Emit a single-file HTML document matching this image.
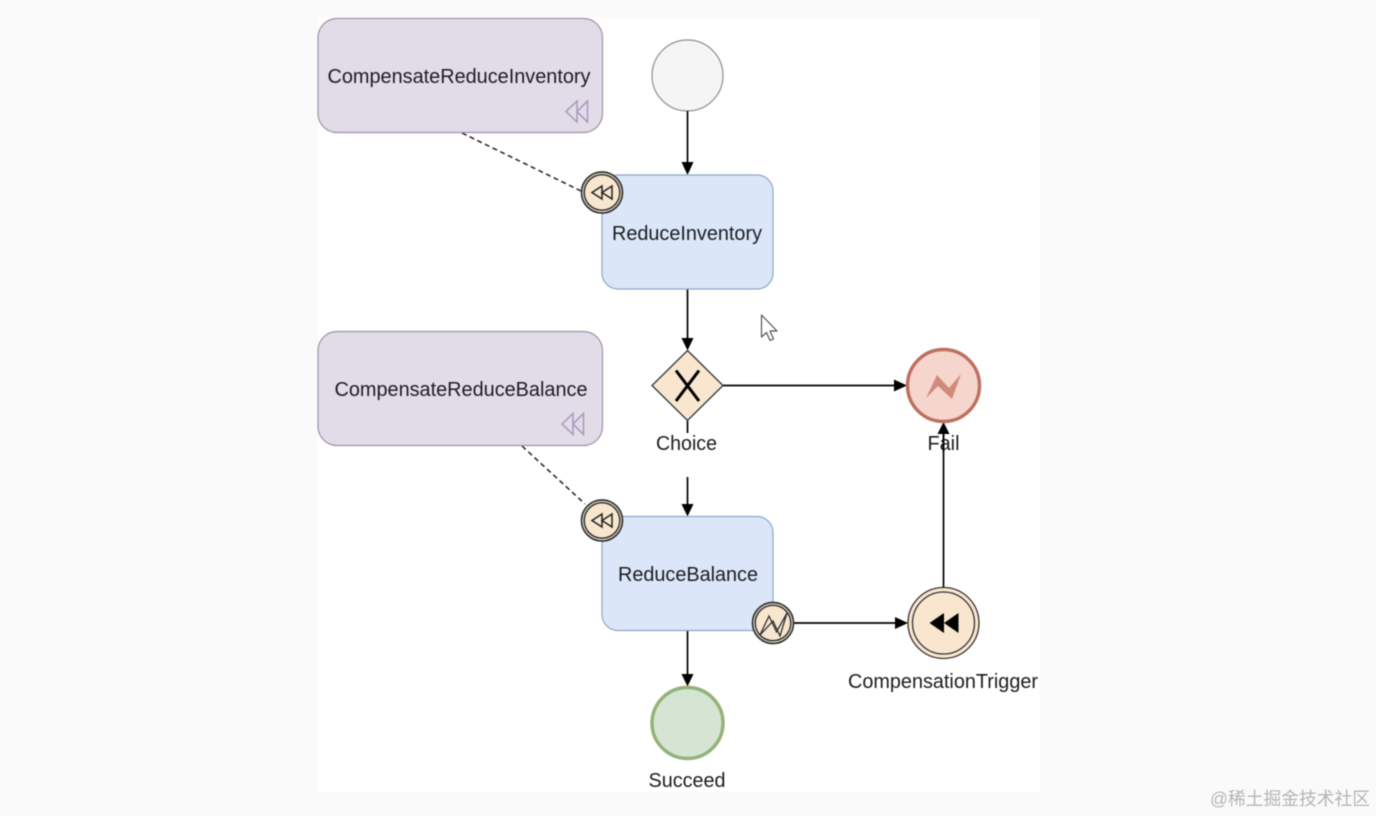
<!DOCTYPE html>
<html>
<head>
<meta charset="utf-8">
<style>
html,body{margin:0;padding:0;width:1376px;height:816px;overflow:hidden;background:#fafafa}
svg{display:block;filter:blur(0.45px)}
text{font-family:"Liberation Sans",Arial,sans-serif;font-size:20px;fill:#1c1c22;text-anchor:middle}
</style>
</head>
<body>
<svg width="1376" height="816" viewBox="0 0 1376 816" xmlns="http://www.w3.org/2000/svg">
<defs>
<g id="b" stroke-linejoin="miter"><path d="M-11 0 L-1 -6.500 L-1 6.500 Z M-1 0 L9 -6.500 L9 6.500 Z" fill="none" stroke="#222" stroke-width="1.500"/></g>
<g id="p" fill="none" stroke="#a596b8" stroke-width="1.400"><path d="M0 0 L11 -10.500 L11 10.500 Z M11 0 L21.500 -10.500 L21.500 10.500 Z"/></g>
</defs>
<rect width="1376" height="816" fill="#fafafa"/>
<rect x="318" y="18" width="722" height="774" fill="#fff"/>

<!-- Dashed associations -->
<line x1="462" y1="133" x2="581" y2="191" stroke="#222" stroke-width="1.500" stroke-dasharray="5 3.500"/>
<line x1="522" y1="446" x2="585" y2="504" stroke="#222" stroke-width="1.500" stroke-dasharray="5 3.500"/>

<!-- Compensation boxes -->
<rect x="318" y="18.500" width="284.500" height="114" rx="19" fill="#e1dce8" stroke="#9f93ab" stroke-width="1.200"/>
<text x="459" y="83" textLength="263" lengthAdjust="spacingAndGlyphs">CompensateReduceInventory</text>
<use href="#p" x="566" y="111.500"/>
<rect x="318" y="331.500" width="284.500" height="114" rx="19" fill="#e1dce8" stroke="#9f93ab" stroke-width="1.200"/>
<text x="461" y="396" textLength="253" lengthAdjust="spacingAndGlyphs">CompensateReduceBalance</text>
<use href="#p" x="562" y="424"/>

<!-- Start -->
<circle cx="687.500" cy="75.500" r="35.500" fill="#f5f5f5" stroke="#8f8f8f" stroke-width="1.200"/>

<!-- Sequence lines -->
<g stroke="#000" stroke-width="1.700" fill="none">
<line x1="687.500" y1="111" x2="687.500" y2="162"/>
<line x1="687.500" y1="289" x2="687.500" y2="338"/>
<line x1="723" y1="385.500" x2="896" y2="385.500"/>
<line x1="687.500" y1="421" x2="687.500" y2="433"/>
<line x1="687.500" y1="477" x2="687.500" y2="504"/>
<line x1="687.500" y1="630" x2="687.500" y2="674"/>
<line x1="794" y1="623" x2="897" y2="623"/>
<line x1="943.500" y1="587" x2="943.500" y2="434"/>
</g>
<g fill="#000">
<path d="M681.500 162 L693.500 162 L687.500 175 Z"/>
<path d="M681.500 338 L693.500 338 L687.500 350.500 Z"/>
<path d="M894 379.500 L894 391.500 L907 385.500 Z"/>
<path d="M681.500 504 L693.500 504 L687.500 516.500 Z"/>
<path d="M681.500 674 L693.500 674 L687.500 686.500 Z"/>
<path d="M895 617 L895 629 L908 623 Z"/>
<path d="M937.500 434 L949.500 434 L943.500 422 Z"/>
</g>

<!-- Task boxes -->
<rect x="602" y="175" width="171" height="114" rx="16" fill="#dbe7f9" stroke="#8ea6c8" stroke-width="1.200"/>
<text x="687" y="240" textLength="150" lengthAdjust="spacingAndGlyphs">ReduceInventory</text>
<rect x="602" y="516.500" width="171" height="114" rx="16" fill="#dbe7f9" stroke="#8ea6c8" stroke-width="1.200"/>
<text x="688" y="581" textLength="140" lengthAdjust="spacingAndGlyphs">ReduceBalance</text>

<!-- Compensation boundary events -->
<g>
<circle cx="602" cy="192.500" r="20.500" fill="#efe3cf" stroke="#333" stroke-width="1.700"/>
<circle cx="602" cy="192.500" r="17.800" fill="#f8e6cf" stroke="#333" stroke-width="1.500"/>
<use href="#b" x="603" y="192.500"/>
<circle cx="602" cy="520.500" r="20.500" fill="#efe3cf" stroke="#333" stroke-width="1.700"/>
<circle cx="602" cy="520.500" r="17.800" fill="#f8e6cf" stroke="#333" stroke-width="1.500"/>
<use href="#b" x="603" y="520.500"/>
</g>

<!-- Error boundary event -->
<circle cx="773" cy="623" r="20.500" fill="#efe3cf" stroke="#333" stroke-width="1.700"/>
<circle cx="773" cy="623" r="17.800" fill="#f8e6cf" stroke="#333" stroke-width="1.500"/>
<path d="M760 635 L769 616 L776.500 632 L787 613 L780 636 L773 621 Z" fill="none" stroke="#333" stroke-width="1.300" stroke-linejoin="miter"/>

<!-- Gateway -->
<path d="M687.500 350.500 L723 385.500 L687.500 420.500 L652 385.500 Z" fill="#f8e6cf" stroke="#333" stroke-width="1.300"/>
<path d="M676 370.500 L699 401 M699 370.500 L676 401" stroke="#000" stroke-width="3" fill="none"/>
<text x="686.500" y="450" textLength="61" lengthAdjust="spacingAndGlyphs">Choice</text>

<!-- Fail -->
<circle cx="943.500" cy="385.500" r="36" fill="#f6d5cc" stroke="#bf6f60" stroke-width="3.400"/>
<path d="M926 398 L937 375 L949 388 L961 374 L952 399 L938 386 Z" fill="#d08a7c"/>
<text x="943.500" y="450" textLength="32" lengthAdjust="spacingAndGlyphs">Fail</text>
<line x1="943.500" y1="434" x2="943.500" y2="452" stroke="#000" stroke-width="1.700"/>

<!-- Compensation trigger -->
<circle cx="943.500" cy="623" r="35.500" fill="#f8e6cf" stroke="#333" stroke-width="1.300"/>
<circle cx="943.500" cy="623" r="31" fill="#f8e6cf" stroke="#333" stroke-width="1.300"/>
<path d="M929.500 623 L944 613 L944 633 Z M944 623 L958.500 613 L958.500 633 Z" fill="#000"/>
<text x="943" y="688" textLength="190" lengthAdjust="spacingAndGlyphs">CompensationTrigger</text>

<!-- Succeed -->
<circle cx="687.500" cy="723" r="35.500" fill="#d6e5d3" stroke="#93b279" stroke-width="3.400"/>
<text x="687" y="787" textLength="77" lengthAdjust="spacingAndGlyphs">Succeed</text>

<!-- Cursor -->
<path d="M761.500 315 L761.500 337 L766.500 332.500 L770 340.500 L773.500 339 L770 331 L777 331 Z" fill="#fff" stroke="#555" stroke-width="1.200" stroke-linejoin="round"/>

<!-- Watermark -->
<text x="1290" y="805" style="font-family:'Liberation Sans','Noto Sans CJK SC',sans-serif;font-size:18px;fill:#b5b5b5" textLength="160" lengthAdjust="spacingAndGlyphs">@稀土掘金技术社区</text>
</svg>
</body>
</html>
